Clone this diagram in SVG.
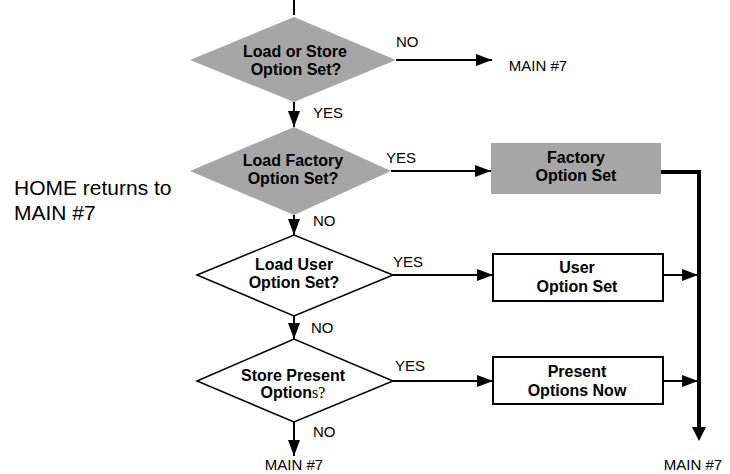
<svg xmlns="http://www.w3.org/2000/svg" width="730" height="474" viewBox="0 0 730 474">
  <style>
    .node-text { font-family: "Liberation Sans", Arial, sans-serif; font-weight: bold; font-size: 16px; fill: #000; text-anchor: middle; }
    .label { font-family: "Liberation Sans", Arial, sans-serif; font-size: 15px; fill: #000; }
    .term { font-family: "Liberation Sans", Arial, sans-serif; font-size: 15px; fill: #000; text-anchor: middle; }
    .note { font-family: "Liberation Sans", Arial, sans-serif; font-size: 21px; fill: #000; }
    .gray { fill: #a6a6a6; stroke: none; }
    .plain { fill: #fff; stroke: #000; stroke-width: 1.5; }
    .box { fill: #fff; stroke: #000; stroke-width: 2; }
    .flow { fill: none; stroke: #000; stroke-width: 2; }
    .bus { fill: none; stroke: #000; stroke-width: 4; }
    .serif { font-family: "Liberation Serif", "Times New Roman", serif; font-weight: normal; }
  </style>
  <defs>
    <marker id="head" viewBox="0 0 16 12" refX="16" refY="6" markerWidth="16" markerHeight="12" markerUnits="userSpaceOnUse" orient="auto">
      <path d="M0,0 L16,6 L0,12 Z" fill="#000"/>
    </marker>
  </defs>

  <!-- connectors -->
  <g id="connectors">
    <line class="flow" x1="294" y1="0" x2="294" y2="15"/>
    <line class="flow" x1="396" y1="60" x2="492" y2="60" marker-end="url(#head)"/>
    <line class="flow" x1="294" y1="102" x2="294" y2="127" marker-end="url(#head)"/>
    <line class="flow" x1="391" y1="171" x2="491" y2="171" marker-end="url(#head)"/>
    <line class="flow" x1="294" y1="215" x2="294" y2="235" marker-end="url(#head)"/>
    <line class="flow" x1="393" y1="275" x2="493" y2="275" marker-end="url(#head)"/>
    <line class="flow" x1="294" y1="316" x2="294" y2="339" marker-end="url(#head)"/>
    <line class="flow" x1="393" y1="381" x2="493" y2="381" marker-end="url(#head)"/>
    <line class="flow" x1="294" y1="422" x2="294" y2="456" marker-end="url(#head)"/>
    <polyline class="bus" points="661,172 699,172 699,428"/>
    <path d="M692,427 L699,441 L706,427 Z" fill="#000"/>
    <line class="flow" x1="663" y1="275" x2="698" y2="275" marker-end="url(#head)"/>
    <line class="flow" x1="663" y1="381" x2="698" y2="381" marker-end="url(#head)"/>

    <text class="label" x="396" y="47">NO</text>
    <text class="label" x="313" y="118">YES</text>
    <text class="label" x="386" y="163">YES</text>
    <text class="label" x="313" y="226">NO</text>
    <text class="label" x="393" y="267">YES</text>
    <text class="label" x="311" y="333">NO</text>
    <text class="label" x="395" y="371">YES</text>
    <text class="label" x="313" y="437">NO</text>
  </g>

  <!-- decision: load or store -->
  <g id="q-load-or-store">
    <polygon class="gray" points="190,60 294,17 396,60 294,102"/>
    <text class="node-text" x="295" y="57">Load or Store</text>
    <text class="node-text" x="296" y="75">Option Set?</text>
  </g>

  <g id="main7-top">
    <text class="term" x="538" y="71">MAIN #7</text>
  </g>

  <!-- decision: factory set -->
  <g id="q-factory">
    <polygon class="gray" points="190,171 294,127 391,171 294,215"/>
    <text class="node-text" x="293" y="166">Load Factory</text>
    <text class="node-text" x="293" y="184">Option Set?</text>
  </g>

  <g id="factory-set">
    <rect class="gray" x="491" y="143" width="170" height="51"/>
    <text class="node-text" x="576" y="163">Factory</text>
    <text class="node-text" x="576" y="181">Option Set</text>
  </g>

  <!-- decision: user set -->
  <g id="q-user">
    <polygon class="plain" points="197,275 294,235 393,275 294,316"/>
    <text class="node-text" x="294" y="270">Load User</text>
    <text class="node-text" x="294" y="288">Option Set?</text>
  </g>

  <g id="user-set">
    <rect class="box" x="493" y="254" width="170" height="47"/>
    <text class="node-text" x="577" y="273">User</text>
    <text class="node-text" x="577" y="292">Option Set</text>
  </g>

  <!-- decision: store present -->
  <g id="q-store">
    <polygon class="plain" points="197,381 294,339 393,381 294,422"/>
    <text class="node-text" x="293" y="381">Store Present</text>
    <text class="node-text" x="293" y="398">Option<tspan class="serif">s?</tspan></text>
  </g>

  <g id="present-now">
    <rect class="box" x="493" y="357" width="170" height="47"/>
    <text class="node-text" x="577" y="377">Present</text>
    <text class="node-text" x="577" y="396">Options Now</text>
  </g>

  <g id="main7-left">
    <text class="term" x="294" y="470">MAIN #7</text>
  </g>
  <g id="main7-right">
    <text class="term" x="693" y="470">MAIN #7</text>
  </g>

  <g id="home-note">
    <text class="note" x="14" y="195">HOME returns to</text>
    <text class="note" x="14" y="220">MAIN #7</text>
  </g>
</svg>
